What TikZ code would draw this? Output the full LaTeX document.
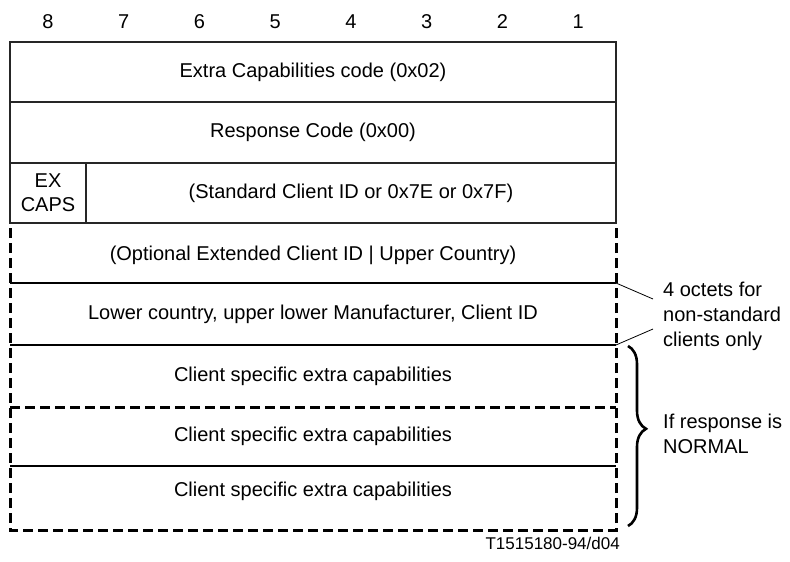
\documentclass[tikz,border=0pt]{standalone}
\usepackage{fontspec}
\setmainfont{Liberation Sans}
\usetikzlibrary{calc,positioning,decorations.pathreplacing}
\tikzset{fld/.style={inner sep=0pt, outer sep=0pt, minimum width=606pt}}
\tikzset{fldb/.style={fld, draw=black!85, line width=1.2pt}}
\tikzset{sep/.style={line width=1.7pt}}
\tikzset{dsh/.style={line width=3pt, dash pattern=on 10pt off 5pt}}
\tikzset{note/.style={anchor=west, align=left, inner sep=0pt, font=\fontsize{20}{25}\selectfont}}

\begin{document}
\begin{tikzpicture}[x=1pt, y=-1pt, font=\fontsize{20}{24}\selectfont]
                        \useasboundingbox (0,0) rectangle (790,562);

                        \foreach \b in {1,...,8}
                            \node (bit\b) at ({616-75.75*(\b-0.5)}, 22) {\b};

                        \node[fldb, minimum height=60pt] (code) at (313, 72) {Extra Capabilities code (0x02)};
                        \node[fldb, minimum height=61pt] (resp) at (313, 132.5) {Response Code (0x00)};
                        \node[fldb, minimum width=76pt, minimum height=60pt, align=center] (excaps) at (48, 193) {EX\\CAPS};
                        \node[fldb, minimum width=530pt, minimum height=60pt] (stdid) at (351, 193) {(Standard Client ID or 0x7E or 0x7F)};

                        \node[fld, minimum height=55pt] (optid) at (313, 255.5) {(Optional Extended Client ID | Upper Country)};
                        \node[fld, minimum height=62pt] (lowc) at (313, 314) {Lower country, upper lower Manufacturer, Client ID};
                        \node[fld, minimum height=62pt] (cap1) at (313, 376) {Client specific extra capabilities};
                        \node[fld, minimum height=59pt] (cap2) at (313, 436.5) {Client specific extra capabilities};
                        \node[fld, minimum height=50pt] (cap3) at (313, 491) {Client specific extra capabilities};

                        \draw[sep]
                        (optid.south west) edge (optid.south east)
                        (lowc.south west) edge (lowc.south east)
                        (cap2.south west) edge (cap2.south east);

                        \draw[dsh] (optid.north west) -- ([yshift=-14pt]cap3.south west) -- ([yshift=-14pt]cap3.south east) -- (optid.north east);
                        \draw[dsh] (cap1.south west) -- (cap1.south east);

                        \node[note] (oct) at (663, 316) {4 octets for\\non-standard\\clients only};
                        \coordinate (octa) at ($(oct.west)+(-10,-17)$);
                        \coordinate (octb) at ($(oct.west)+(-10,13)$);

                        \draw[line width=0.8pt]
                        (lowc.north east) edge (octa)
                        (lowc.south east) edge (octb);

                        \draw[line width=2.6pt, decorate, decoration={brace, amplitude=18pt, aspect=0.46}]
                        (628, 346) -- (628, 526);
                        \node[note] (norm) at (663, 434) {If response is\\NORMAL};

                        \node[anchor=east, inner sep=0pt, font=\fontsize{17}{20}\selectfont] (fig) at (620, 543) {T1515180-94/d04};
                    \end{tikzpicture}
\end{document}
